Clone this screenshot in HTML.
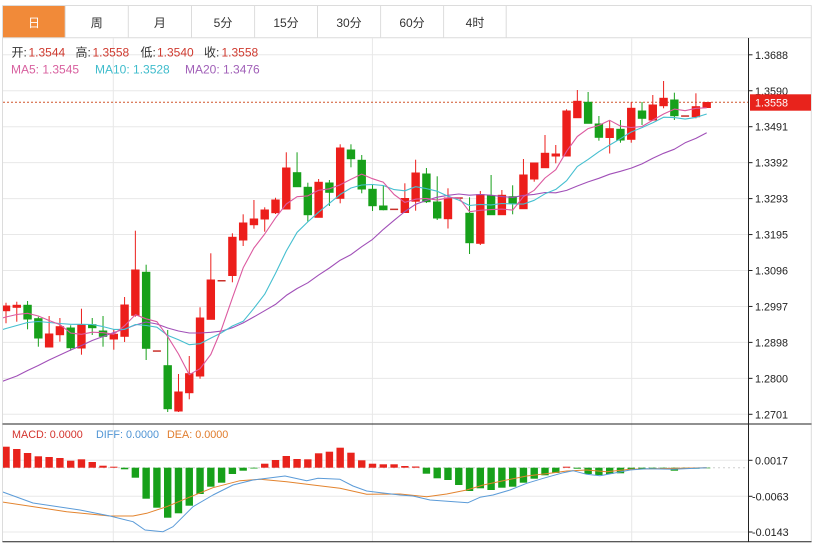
<!DOCTYPE html>
<html><head><meta charset="utf-8"><style>
html,body{margin:0;padding:0;background:#fff;}
svg{display:block;}
text{font-family:"Liberation Sans","Noto Sans CJK SC",sans-serif;}
</style></head><body>
<svg width="819" height="544" viewBox="0 0 819 544" xmlns="http://www.w3.org/2000/svg">
<defs>
<clipPath id="cm"><rect x="3" y="38" width="745.5" height="386"/></clipPath>
<clipPath id="cd"><rect x="3" y="424.5" width="745.5" height="117"/></clipPath>
</defs>
<rect width="819" height="544" fill="#fff"/>
<!-- tab bar -->
<rect x="3" y="5.7" width="62" height="32" fill="#f18a39"/>
<g stroke="#dcdcdc" stroke-width="1" fill="none">
<line x1="2.5" y1="5.5" x2="811.5" y2="5.5"/>
<line x1="2.5" y1="37.7" x2="811.5" y2="37.7"/>
<line x1="65.2" y1="5.5" x2="65.2" y2="37.7"/>
<line x1="128.3" y1="5.5" x2="128.3" y2="37.7"/>
<line x1="191.5" y1="5.5" x2="191.5" y2="37.7"/>
<line x1="254.6" y1="5.5" x2="254.6" y2="37.7"/>
<line x1="317.5" y1="5.5" x2="317.5" y2="37.7"/>
<line x1="380.6" y1="5.5" x2="380.6" y2="37.7"/>
<line x1="443.6" y1="5.5" x2="443.6" y2="37.7"/>
<line x1="506.2" y1="5.5" x2="506.2" y2="37.7"/>
<line x1="2.5" y1="5.5" x2="2.5" y2="542"/>
<line x1="811.3" y1="5.5" x2="811.3" y2="542"/>
</g>
<g font-size="12" text-anchor="middle" fill="#333">
<text x="34" y="27" fill="#fff">日</text>
<text x="96.7" y="27">周</text>
<text x="159.9" y="27">月</text>
<text x="223" y="27">5分</text>
<text x="286" y="27">15分</text>
<text x="349" y="27">30分</text>
<text x="412" y="27">60分</text>
<text x="475" y="27">4时</text>
</g>
<!-- grid -->
<g stroke="#e8e8e8" stroke-width="1">
<line x1="113.3" y1="38" x2="113.3" y2="542"/>
<line x1="372.4" y1="38" x2="372.4" y2="542"/>
<line x1="631.7" y1="38" x2="631.7" y2="542"/>
<line x1="3" y1="54.8" x2="748" y2="54.8"/>
<line x1="3" y1="90.75" x2="748" y2="90.75"/>
<line x1="3" y1="126.7" x2="748" y2="126.7"/>
<line x1="3" y1="162.65" x2="748" y2="162.65"/>
<line x1="3" y1="198.6" x2="748" y2="198.6"/>
<line x1="3" y1="234.55" x2="748" y2="234.55"/>
<line x1="3" y1="270.5" x2="748" y2="270.5"/>
<line x1="3" y1="306.45" x2="748" y2="306.45"/>
<line x1="3" y1="342.4" x2="748" y2="342.4"/>
<line x1="3" y1="378.35" x2="748" y2="378.35"/>
<line x1="3" y1="414.3" x2="748" y2="414.3"/>
<line x1="3" y1="460.3" x2="748" y2="460.3"/>
<line x1="3" y1="496.3" x2="748" y2="496.3"/>
<line x1="3" y1="532" x2="748" y2="532"/>
</g>
<!-- legend -->
<g font-size="12">
<text x="11.5" y="56.5" fill="#333">开:</text><text x="28.5" y="56.5" fill="#cf3a2f">1.3544</text>
<text x="75.5" y="56.5" fill="#333">高:</text><text x="92.5" y="56.5" fill="#cf3a2f">1.3558</text>
<text x="140.5" y="56.5" fill="#333">低:</text><text x="157" y="56.5" fill="#cf3a2f">1.3540</text>
<text x="204" y="56.5" fill="#333">收:</text><text x="221.5" y="56.5" fill="#cf3a2f">1.3558</text>
<text x="11" y="73.5" fill="#d8609f">MA5: 1.3545</text>
<text x="95" y="73.5" fill="#3fbccc">MA10: 1.3528</text>
<text x="185" y="73.5" fill="#a160b8">MA20: 1.3476</text>
</g>
<!-- main chart -->
<g clip-path="url(#cm)">
<line x1="3" y1="102.3" x2="748" y2="102.3" stroke="#d0552b" stroke-width="1" stroke-dasharray="2,2"/>
<g stroke="#ec1e1b" stroke-width="1" fill="#ec1e1b">
<line x1="6" y1="302.7" x2="6" y2="323.3"/><rect x="2.3" y="306" width="7.4" height="4.7"/>
<line x1="16.78" y1="301.7" x2="16.78" y2="321.7"/><rect x="13.08" y="305.3" width="7.4" height="2"/>
<line x1="49.12" y1="316" x2="49.12" y2="347"/><rect x="45.42" y="334" width="7.4" height="13"/>
<line x1="59.9" y1="318" x2="59.9" y2="341.7"/><rect x="56.2" y="326.7" width="7.4" height="8"/>
<line x1="81.46" y1="308.7" x2="81.46" y2="354.7"/><rect x="77.76" y="325" width="7.4" height="23"/>
<line x1="113.8" y1="329" x2="113.8" y2="349.7"/><rect x="110.1" y="334.3" width="7.4" height="4.7"/>
<line x1="124.58" y1="297" x2="124.58" y2="342"/><rect x="120.88" y="305" width="7.4" height="31.3"/>
<line x1="135.36" y1="230.7" x2="135.36" y2="316.7"/><rect x="131.66" y="270" width="7.4" height="45.3"/>
<line x1="178.48" y1="374" x2="178.48" y2="412"/><rect x="174.78" y="392" width="7.4" height="19"/>
<line x1="189.26" y1="356" x2="189.26" y2="399.3"/><rect x="185.56" y="373.7" width="7.4" height="19"/>
<line x1="200.04" y1="307.3" x2="200.04" y2="378.7"/><rect x="196.34" y="318" width="7.4" height="58"/>
<line x1="210.82" y1="253.3" x2="210.82" y2="319.3"/><rect x="207.12" y="280" width="7.4" height="39.3"/>
<line x1="232.38" y1="233.3" x2="232.38" y2="282.3"/><rect x="228.68" y="237.3" width="7.4" height="38.2"/>
<line x1="243.16" y1="214.3" x2="243.16" y2="246"/><rect x="239.46" y="223" width="7.4" height="17"/>
<line x1="253.94" y1="200" x2="253.94" y2="228.7"/><rect x="250.24" y="219" width="7.4" height="5.7"/>
<line x1="264.72" y1="207.3" x2="264.72" y2="231.7"/><rect x="261.02" y="210" width="7.4" height="9"/>
<line x1="275.5" y1="197.7" x2="275.5" y2="214"/><rect x="271.8" y="200" width="7.4" height="12.7"/>
<line x1="286.28" y1="152.3" x2="286.28" y2="209"/><rect x="282.58" y="168" width="7.4" height="41"/>
<line x1="318.62" y1="179" x2="318.62" y2="217.3"/><rect x="314.92" y="182.3" width="7.4" height="35"/>
<line x1="340.18" y1="144.3" x2="340.18" y2="203.3"/><rect x="336.48" y="148" width="7.4" height="50.3"/>
<line x1="404.86" y1="183.3" x2="404.86" y2="212.7"/><rect x="401.16" y="198.5" width="7.4" height="14"/>
<line x1="415.64" y1="159.7" x2="415.64" y2="210.7"/><rect x="411.94" y="173" width="7.4" height="28.2"/>
<line x1="447.98" y1="188.3" x2="447.98" y2="228.5"/><rect x="444.28" y="198" width="7.4" height="20.7"/>
<line x1="480.32" y1="191" x2="480.32" y2="245"/><rect x="476.62" y="194.7" width="7.4" height="48.6"/>
<line x1="501.88" y1="190" x2="501.88" y2="214.7"/><rect x="498.18" y="195.3" width="7.4" height="19.4"/>
<line x1="523.44" y1="159" x2="523.44" y2="208.7"/><rect x="519.74" y="175" width="7.4" height="33.7"/>
<line x1="534.22" y1="163" x2="534.22" y2="181.7"/><rect x="530.52" y="163" width="7.4" height="16"/>
<line x1="545" y1="135" x2="545" y2="167.7"/><rect x="541.3" y="153.3" width="7.4" height="14.4"/>
<line x1="555.78" y1="145" x2="555.78" y2="163.3"/><rect x="552.08" y="154" width="7.4" height="2"/>
<line x1="566.56" y1="109.3" x2="566.56" y2="156"/><rect x="562.86" y="111" width="7.4" height="45"/>
<line x1="577.34" y1="90" x2="577.34" y2="117.7"/><rect x="573.64" y="101.3" width="7.4" height="16.4"/>
<line x1="609.68" y1="120" x2="609.68" y2="153.5"/><rect x="605.98" y="128.7" width="7.4" height="8.8"/>
<line x1="631.24" y1="102" x2="631.24" y2="142.7"/><rect x="627.54" y="108.3" width="7.4" height="31"/>
<line x1="652.8" y1="95" x2="652.8" y2="121"/><rect x="649.1" y="105" width="7.4" height="15"/>
<line x1="663.58" y1="81" x2="663.58" y2="108.3"/><rect x="659.88" y="98.3" width="7.4" height="7.4"/>
<line x1="695.92" y1="93.3" x2="695.92" y2="118.3"/><rect x="692.22" y="106.7" width="7.4" height="10"/>
<line x1="706.7" y1="102.3" x2="706.7" y2="108"/><rect x="703" y="102.5" width="7.4" height="5"/>
</g>
<g fill="#c9302a">
<rect x="152.9" y="350.3" width="8" height="1.5"/>
<rect x="217.6" y="280" width="8" height="1.5"/>
<rect x="390.1" y="208.6" width="8" height="1.5"/>
<rect x="454.8" y="197.3" width="8" height="1.5"/>
<rect x="681.1" y="115.3" width="8" height="1.5"/>
</g>
<g stroke="#17a01a" stroke-width="1" fill="#17a01a">
<line x1="27.56" y1="301" x2="27.56" y2="329.3"/><rect x="23.86" y="305.3" width="7.4" height="13.7"/>
<line x1="38.34" y1="316.7" x2="38.34" y2="346.7"/><rect x="34.64" y="318.7" width="7.4" height="19.3"/>
<line x1="70.68" y1="325.3" x2="70.68" y2="350.7"/><rect x="66.98" y="328" width="7.4" height="19.7"/>
<line x1="92.24" y1="318" x2="92.24" y2="335"/><rect x="88.54" y="324.7" width="7.4" height="3"/>
<line x1="103.02" y1="316" x2="103.02" y2="346.7"/><rect x="99.32" y="331" width="7.4" height="5.3"/>
<line x1="146.14" y1="264.7" x2="146.14" y2="360"/><rect x="142.44" y="272.3" width="7.4" height="76"/>
<line x1="167.7" y1="330" x2="167.7" y2="412"/><rect x="164" y="365.7" width="7.4" height="43"/>
<line x1="297.06" y1="152.3" x2="297.06" y2="186.7"/><rect x="293.36" y="172.7" width="7.4" height="14"/>
<line x1="307.84" y1="182.7" x2="307.84" y2="221.7"/><rect x="304.14" y="187.3" width="7.4" height="27.4"/>
<line x1="329.4" y1="180" x2="329.4" y2="206"/><rect x="325.7" y="183" width="7.4" height="9.3"/>
<line x1="350.96" y1="144.3" x2="350.96" y2="167.3"/><rect x="347.26" y="150" width="7.4" height="8.7"/>
<line x1="361.74" y1="155" x2="361.74" y2="193.3"/><rect x="358.04" y="160.3" width="7.4" height="28.7"/>
<line x1="372.52" y1="185" x2="372.52" y2="211"/><rect x="368.82" y="189.3" width="7.4" height="16.4"/>
<line x1="383.3" y1="185.7" x2="383.3" y2="210.3"/><rect x="379.6" y="206" width="7.4" height="3.7"/>
<line x1="426.42" y1="168" x2="426.42" y2="203"/><rect x="422.72" y="174" width="7.4" height="27.7"/>
<line x1="437.2" y1="176.3" x2="437.2" y2="220"/><rect x="433.5" y="202" width="7.4" height="16"/>
<line x1="469.54" y1="197.3" x2="469.54" y2="254"/><rect x="465.84" y="213.3" width="7.4" height="29.4"/>
<line x1="491.1" y1="175" x2="491.1" y2="214.7"/><rect x="487.4" y="196" width="7.4" height="18.7"/>
<line x1="512.66" y1="185.3" x2="512.66" y2="214.3"/><rect x="508.96" y="196.7" width="7.4" height="6.6"/>
<line x1="588.12" y1="92" x2="588.12" y2="123.3"/><rect x="584.42" y="102.3" width="7.4" height="21"/>
<line x1="598.9" y1="116" x2="598.9" y2="140.7"/><rect x="595.2" y="124" width="7.4" height="13.3"/>
<line x1="620.46" y1="120" x2="620.46" y2="142.7"/><rect x="616.76" y="129.3" width="7.4" height="10.7"/>
<line x1="642.02" y1="102" x2="642.02" y2="125"/><rect x="638.32" y="111" width="7.4" height="7.3"/>
<line x1="674.36" y1="92.7" x2="674.36" y2="120"/><rect x="670.66" y="100" width="7.4" height="15.7"/>
</g>
<g fill="none" stroke-width="1.1" stroke-linejoin="round">
<polyline stroke="#a150b8" points="-4.8,384 6,380 16.8,376 27.6,370.5 38.3,365.5 49.1,360 59.9,355 70.7,350 81.5,345.5 92.2,340.5 103,336.5 113.8,332.5 124.6,329 135.4,325 146.1,322 156.9,324 167.7,328 178.5,331 189.3,333 200,333 210.8,332.3 221.6,331.1 232.4,327.7 243.2,322.9 253.9,316.9 264.7,310.7 275.5,304.4 286.3,295.4 297.1,288.5 307.8,282.8 318.6,275.1 329.4,268 340.2,260.2 351,254.6 361.7,246.7 372.5,239.4 383.3,229.4 394.1,220.3 404.9,211.5 415.6,204.3 426.4,200.4 437.2,197.2 448,195.3 458.8,194 469.5,195.2 480.3,194.5 491.1,195.2 501.9,196.6 512.7,197.4 523.4,195.4 534.2,194.4 545,192.5 555.8,192.8 566.6,190.4 577.3,186 588.1,181.9 598.9,178.3 609.7,174.2 620.5,171.3 631.2,168.1 642,163.9 652.8,158.3 663.6,153.3 674.4,149.2 685.1,142.8 695.9,138.4 706.7,132.8"/>
<polyline stroke="#45bfd0" points="-4.8,332 6,328.5 16.8,325.5 27.6,322.5 38.3,321.5 49.1,322.5 59.9,323.5 70.7,324.3 81.5,324.3 92.2,324.5 103,326.6 113.8,329.4 124.6,329.4 135.4,324.5 146.1,325.5 156.9,327.2 167.7,335.4 178.5,339.8 189.3,344.7 200,343.7 210.8,338.1 221.6,332.7 232.4,326 243.2,321.3 253.9,308.3 264.7,294.2 275.5,273.4 286.3,251 297.1,232.3 307.8,221.9 318.6,212.2 329.4,203.3 340.2,194.4 351,188 361.7,185 372.5,184.5 383.3,185.5 394.1,189.6 404.9,190.8 415.6,186.7 426.4,188.6 437.2,191.2 448,196.2 458.8,200.1 469.5,205.5 480.3,204.4 491.1,204.9 501.9,203.5 512.7,203.9 523.4,204.1 534.2,200.3 545,193.8 555.8,189.4 566.6,180.7 577.3,166.6 588.1,159.4 598.9,151.7 609.7,145 620.5,138.7 631.2,132 642,127.6 652.8,122.7 663.6,117.2 674.4,117.6 685.1,119.1 695.9,117.4 706.7,114"/>
<polyline stroke="#dc5aa0" points="-4.8,320 6,317 16.8,314.5 27.6,313.3 38.3,316 49.1,320.5 59.9,324.6 70.7,333.1 81.5,334.3 92.2,332.2 103,332.7 113.8,334.2 124.6,325.7 135.4,314.7 146.1,318.8 156.9,321.7 167.7,336.6 178.5,354 189.3,374.7 200,368.7 210.8,354.5 221.6,328.9 232.4,297.9 243.2,267.8 253.9,248 264.7,234 275.5,217.9 286.3,204 297.1,196.7 307.8,195.9 318.6,190.3 329.4,188.8 340.2,184.8 351,179.2 361.7,174.1 372.5,178.7 383.3,182.2 394.1,194.5 404.9,202.4 415.6,199.2 426.4,198.4 437.2,200.1 448,197.8 458.8,197.7 469.5,211.7 480.3,210.3 491.1,209.6 501.9,209.1 512.7,210.1 523.4,196.6 534.2,190.3 545,178 555.8,169.7 566.6,151.3 577.3,136.5 588.1,128.6 598.9,125.4 609.7,120.3 620.5,126.1 631.2,127.5 642,126.5 652.8,120.1 663.6,114 674.4,109.1 685.1,110.7 695.9,108.3 706.7,107.8"/>
</g>
</g>
<!-- MACD panel -->
<g clip-path="url(#cd)">
<line x1="3" y1="467.7" x2="748" y2="467.7" stroke="#cfcfcf" stroke-width="1" stroke-dasharray="2,3"/>
<g fill="#e8231c">
<rect x="2.3" y="446.7" width="7.4" height="21"/>
<rect x="13.08" y="449" width="7.4" height="18.7"/>
<rect x="23.86" y="453" width="7.4" height="14.7"/>
<rect x="34.64" y="456.3" width="7.4" height="11.4"/>
<rect x="45.42" y="457" width="7.4" height="10.7"/>
<rect x="56.2" y="458" width="7.4" height="9.7"/>
<rect x="66.98" y="460.7" width="7.4" height="7"/>
<rect x="77.76" y="459.3" width="7.4" height="8.4"/>
<rect x="88.54" y="462" width="7.4" height="5.7"/>
<rect x="99.32" y="465.7" width="7.4" height="2"/>
<rect x="110.1" y="466.7" width="7.4" height="1"/>
<rect x="261.02" y="463.7" width="7.4" height="4"/>
<rect x="271.8" y="460" width="7.4" height="7.7"/>
<rect x="282.58" y="456" width="7.4" height="11.7"/>
<rect x="293.36" y="459" width="7.4" height="8.7"/>
<rect x="304.14" y="459.3" width="7.4" height="8.4"/>
<rect x="314.92" y="453.3" width="7.4" height="14.4"/>
<rect x="325.7" y="451.7" width="7.4" height="16"/>
<rect x="336.48" y="447.7" width="7.4" height="20"/>
<rect x="347.26" y="452.7" width="7.4" height="15"/>
<rect x="358.04" y="460.3" width="7.4" height="7.4"/>
<rect x="368.82" y="463.7" width="7.4" height="4"/>
<rect x="379.6" y="464.3" width="7.4" height="3.4"/>
<rect x="390.38" y="464.3" width="7.4" height="3.4"/>
<rect x="401.16" y="466" width="7.4" height="1.7"/>
<rect x="411.94" y="466.5" width="7.4" height="1.2"/>
<rect x="562.86" y="466.7" width="7.4" height="1"/>
</g>
<g fill="#17a01a">
<rect x="120.88" y="467.7" width="7.4" height="1.6"/>
<rect x="131.66" y="467.7" width="7.4" height="10"/>
<rect x="142.44" y="467.7" width="7.4" height="31"/>
<rect x="153.22" y="467.7" width="7.4" height="40"/>
<rect x="164" y="467.7" width="7.4" height="50"/>
<rect x="174.78" y="467.7" width="7.4" height="45.6"/>
<rect x="185.56" y="467.7" width="7.4" height="38"/>
<rect x="196.34" y="467.7" width="7.4" height="26.3"/>
<rect x="207.12" y="467.7" width="7.4" height="19"/>
<rect x="217.9" y="467.7" width="7.4" height="15"/>
<rect x="228.68" y="467.7" width="7.4" height="6.3"/>
<rect x="239.46" y="467.7" width="7.4" height="3"/>
<rect x="250.24" y="467.7" width="7.4" height="0.8"/>
<rect x="422.72" y="467.7" width="7.4" height="6"/>
<rect x="433.5" y="467.7" width="7.4" height="10.6"/>
<rect x="444.28" y="467.7" width="7.4" height="12.3"/>
<rect x="455.06" y="467.7" width="7.4" height="17.3"/>
<rect x="465.84" y="467.7" width="7.4" height="23.3"/>
<rect x="476.62" y="467.7" width="7.4" height="20.6"/>
<rect x="487.4" y="467.7" width="7.4" height="22.3"/>
<rect x="498.18" y="467.7" width="7.4" height="20"/>
<rect x="508.96" y="467.7" width="7.4" height="19"/>
<rect x="519.74" y="467.7" width="7.4" height="15"/>
<rect x="530.52" y="467.7" width="7.4" height="11"/>
<rect x="541.3" y="467.7" width="7.4" height="7.6"/>
<rect x="552.08" y="467.7" width="7.4" height="5.3"/>
<rect x="573.64" y="467.7" width="7.4" height="1"/>
<rect x="584.42" y="467.7" width="7.4" height="6.3"/>
<rect x="595.2" y="467.7" width="7.4" height="7.3"/>
<rect x="605.98" y="467.7" width="7.4" height="6.3"/>
<rect x="616.76" y="467.7" width="7.4" height="5.6"/>
<rect x="627.54" y="467.7" width="7.4" height="2.3"/>
<rect x="638.32" y="467.7" width="7.4" height="1.6"/>
<rect x="649.1" y="467.7" width="7.4" height="1.3"/>
<rect x="659.88" y="467.7" width="7.4" height="1"/>
<rect x="670.66" y="467.7" width="7.4" height="3"/>
<rect x="681.44" y="467.7" width="7.4" height="1.3"/>
<rect x="692.22" y="467.7" width="7.4" height="1"/>
<rect x="703" y="467.7" width="7.4" height="0.6"/>
</g>
<g fill="none" stroke-width="1" stroke-linejoin="round">
<polyline stroke="#e3842f" points="0,501.7 66.7,511.7 110,516 133,516 146.7,513.3 166.7,506.7 186.7,498.3 213,487.7 240,480.7 260,479.3 286.7,481.7 313,485 340,488.3 366.7,494.3 400,494 426.7,496.7 446.7,494 466.7,490 483.3,485 506.7,480 526.7,476 550,473.3 566.7,471 586.7,470 606.7,471.7 630,469.3 653.3,468.7 706.7,467.7"/>
<polyline stroke="#5b9bd8" points="0,491 33,503 80,510 110,516 133,521.7 145,530 163,531.7 173,526.7 193,506.7 213,495 233,485 253,480 285,476 306.7,480.7 318,478.3 340,479.3 353,486 366.7,491 400,495 413,496 430,500 468,502.7 480,497.3 493,495 510,490 526.7,483.3 543.3,478.3 563.3,472.7 573,470.7 586.7,474.3 600,475.7 613.3,473.3 630,470 646.7,468.7 673.3,469.3 706.7,467.7"/>
</g>
</g>
<g font-size="10.8">
<text x="12" y="437.8" fill="#d4332d">MACD: 0.0000</text>
<text x="96" y="437.8" fill="#4f94d4">DIFF: 0.0000</text>
<text x="167" y="437.8" fill="#e07c2c">DEA: 0.0000</text>
</g>
<!-- frame lines -->
<g stroke="#222" stroke-width="1">
<line x1="2.5" y1="424" x2="811.5" y2="424"/>
<line x1="2.5" y1="541.8" x2="811.5" y2="541.8"/>
<line x1="748.5" y1="38" x2="748.5" y2="542"/>
<line x1="748.5" y1="54.8" x2="752.5" y2="54.8"/>
<line x1="748.5" y1="90.75" x2="752.5" y2="90.75"/>
<line x1="748.5" y1="126.7" x2="752.5" y2="126.7"/>
<line x1="748.5" y1="162.65" x2="752.5" y2="162.65"/>
<line x1="748.5" y1="198.6" x2="752.5" y2="198.6"/>
<line x1="748.5" y1="234.55" x2="752.5" y2="234.55"/>
<line x1="748.5" y1="270.5" x2="752.5" y2="270.5"/>
<line x1="748.5" y1="306.45" x2="752.5" y2="306.45"/>
<line x1="748.5" y1="342.4" x2="752.5" y2="342.4"/>
<line x1="748.5" y1="378.35" x2="752.5" y2="378.35"/>
<line x1="748.5" y1="414.3" x2="752.5" y2="414.3"/>
<line x1="748.5" y1="460.3" x2="752.5" y2="460.3"/>
<line x1="748.5" y1="496.3" x2="752.5" y2="496.3"/>
<line x1="748.5" y1="532" x2="752.5" y2="532"/>
</g>
<g font-size="10.8" fill="#222">
<text x="755" y="58.8">1.3688</text>
<text x="755" y="94.75">1.3590</text>
<text x="755" y="130.7">1.3491</text>
<text x="755" y="166.65">1.3392</text>
<text x="755" y="202.6">1.3293</text>
<text x="755" y="238.55">1.3195</text>
<text x="755" y="274.5">1.3096</text>
<text x="755" y="310.45">1.2997</text>
<text x="755" y="346.4">1.2898</text>
<text x="755" y="382.35">1.2800</text>
<text x="755" y="418.3">1.2701</text>
<text x="755" y="464.3">0.0017</text>
<text x="752" y="500.3">-0.0063</text>
<text x="752" y="536">-0.0143</text>
</g>
<rect x="750" y="94.3" width="61" height="16.4" fill="#e8231c"/>
<text x="755" y="106.3" font-size="10.8" fill="#fff">1.3558</text>
</svg>
</body></html>
